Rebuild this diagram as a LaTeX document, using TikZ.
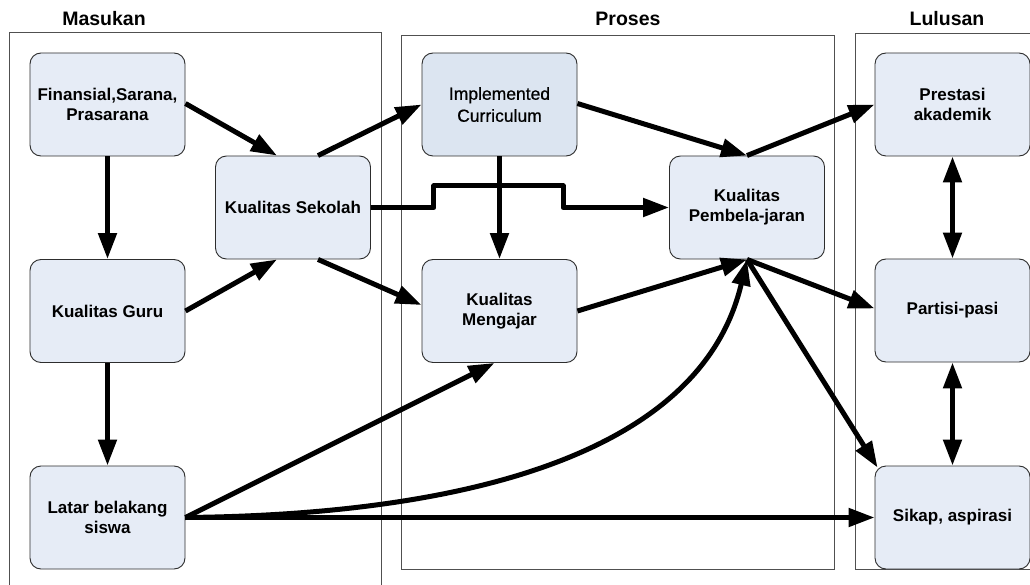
\documentclass[tikz,border=0pt]{standalone}
\usepackage{fontspec}
\setmainfont{Liberation Sans}
\newfontfamily\implfont[FakeBold=0.7]{Liberation Sans}
\usetikzlibrary{arrows.meta,calc}
\definecolor{boxfill}{RGB}{230,236,246}
\definecolor{implfill}{RGB}{220,229,241}
\definecolor{boxline}{RGB}{45,45,45}
\definecolor{panelline}{RGB}{80,80,80}
\tikzset{
  box/.style={draw=boxline, line width=0.9pt, fill=boxfill, rounded corners=11pt,
    minimum width=155pt, minimum height=103pt, inner sep=0pt, align=center,
    font=\bfseries\fontsize{17}{20}\selectfont},
  panel/.style={draw=panelline, line width=0.9pt},
  ptitle/.style={font=\bfseries\fontsize{19.5}{23}\selectfont, inner sep=0pt},
  arr/.style={line width=5pt, -{Triangle[length=26pt,width=18pt]}, line join=round},
  darr/.style={line width=5pt, {Triangle[length=26pt,width=18pt]}-{Triangle[length=26pt,width=18pt]}}
}
\begin{document}
\begin{tikzpicture}[x=1pt,y=-1pt]
\clip (0,0) rectangle (1030,585);
\fill[white] (0,0) rectangle (1030,585);
% panels
\draw[panel] (9,32) rectangle (381,600);
\draw[panel] (401,35) rectangle (834,569);
\draw[panel] (855,33) rectangle (1045,569);
\node[ptitle] (tmas) at (104,19) {Masukan};
\node[ptitle] (tpro) at (628,19) {Proses};
\node[ptitle] (tlul) at (947,19) {Lulusan};
% nodes
\node[box] (fin)   at (107.5,104.5) {Finansial,Sarana,\\Prasarana};
\node[box] (sek)   at (293,207.5)   {Kualitas Sekolah};
\node[box] (guru)  at (107.5,311)   {Kualitas Guru};
\node[box] (lat)   at (107.5,517.5) {Latar belakang\\siswa};
\node[box, fill=implfill, font=\implfont\fontsize{17.5}{22}\selectfont] (impl) at (499.5,104.5) {Implemented\\Curriculum};
\node[box] (meng)  at (499.5,311)   {Kualitas\\Mengajar};
\node[box] (pemb)  at (747,207.5)   {Kualitas\\Pembela-jaran};
\node[box] (prest) at (952.5,104.5) {Prestasi\\akademik};
\node[box] (part)  at (952.5,310.5) {Partisi-pasi};
\node[box] (sik)   at (952.5,517.5) {Sikap, aspirasi};
% connectors
\draw[arr] ([yshift=1pt]fin.east) -- ([xshift=-16pt]sek.north);
\draw[arr] (fin.south) -- (guru.north);
\draw[arr] (guru.east) -- ([xshift=-16pt]sek.south);
\draw[arr] (guru.south) -- (lat.north);
\draw[arr] ([xshift=25pt]sek.north) -- (impl.west);
\draw[arr] (sek.east) -- ++(63,0) |- (563,186) |- (pemb.west);
\draw[arr] (impl.south) -- (meng.south |- meng.north);
\draw[arr] ([yshift=1pt]impl.east) -- (pemb.north);
\draw[arr] (pemb.north) -- (prest.west);
\draw[arr] ([xshift=25pt]sek.south) -- ([yshift=6pt]meng.west);
\draw[arr] (meng.east) -- (pemb.south);
\draw[arr] (lat.east) -- ([xshift=-5pt]meng.south);
\draw[arr] (lat.east) .. controls (450,515) and (700,460) .. (pemb.south);
\draw[arr] (lat.east) -- (sik.west);
\draw[arr] (pemb.south) -- ([yshift=2pt]part.west);
\draw[arr] (pemb.south) -- ([xshift=3pt,yshift=-2pt]sik.north west);
\draw[darr] (prest.south) -- (part.north);
\draw[darr] (part.south) -- (sik.north);
\end{tikzpicture}
\end{document}
